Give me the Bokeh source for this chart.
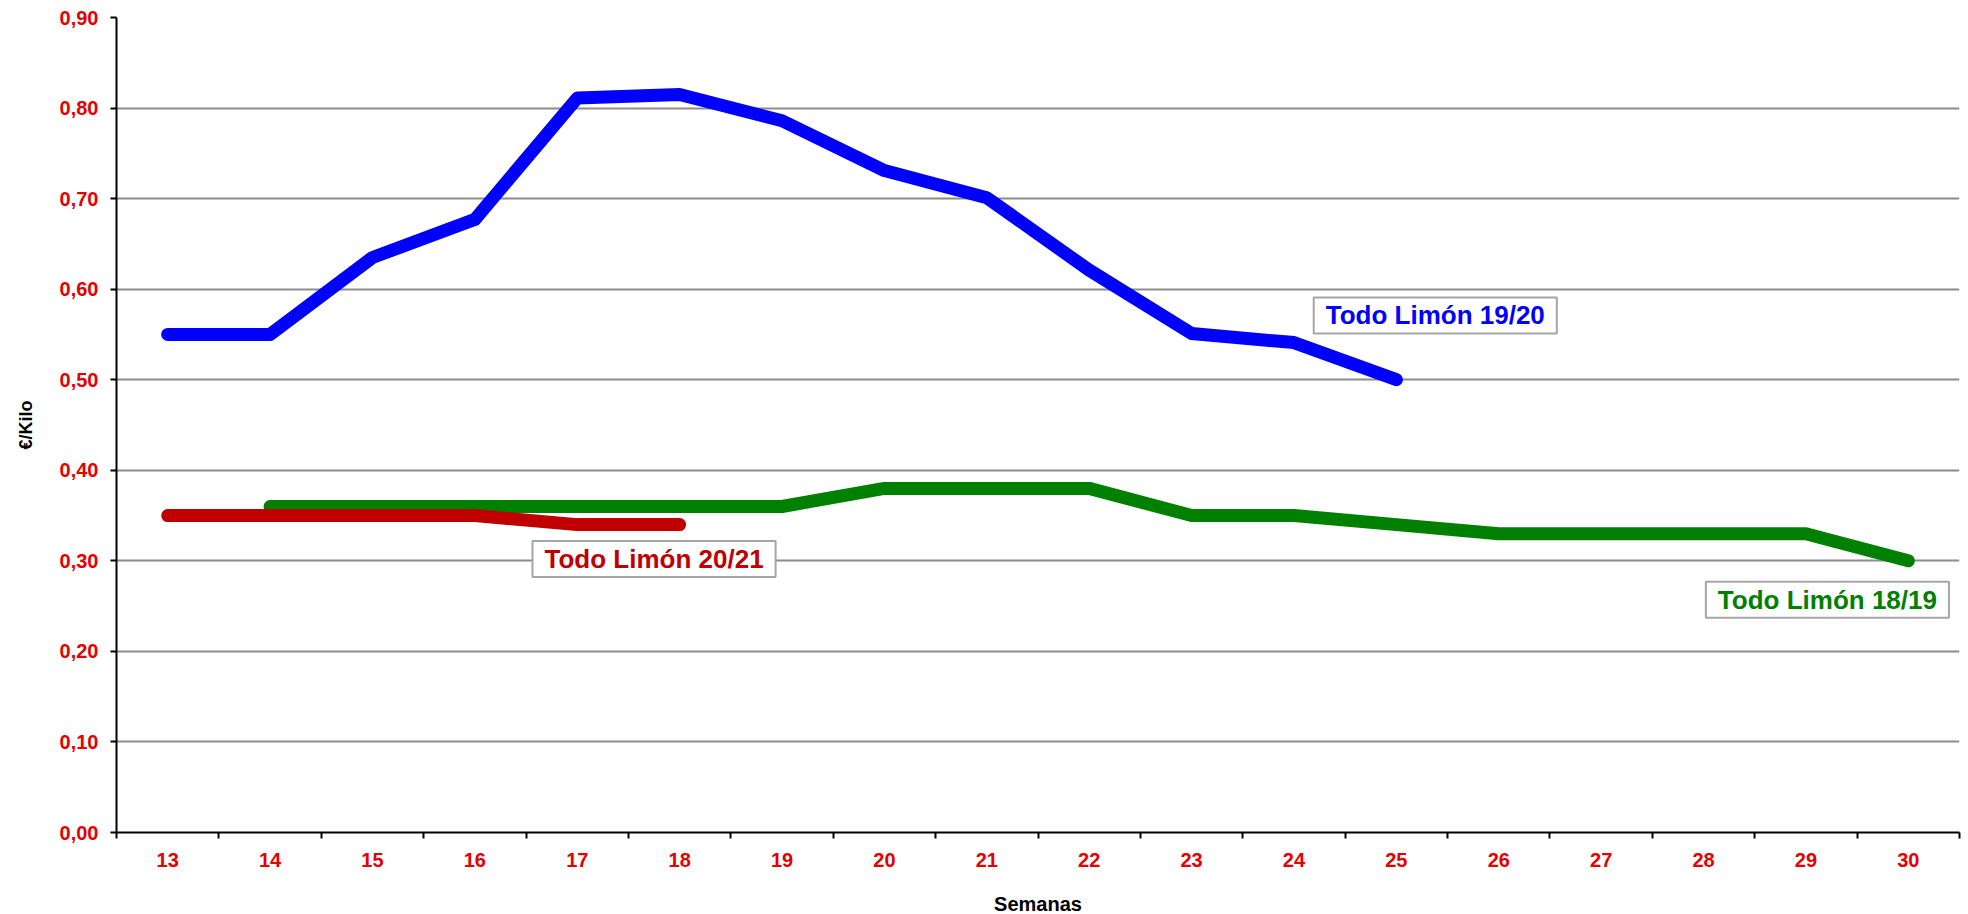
from bokeh.plotting import figure
from bokeh.models import FixedTicker, CustomJSTickFormatter, Label, Range1d
from bokeh.embed import file_html
from bokeh.resources import INLINE

# ---- data ----
weeks = list(range(13, 31))
weeks_1819 = list(range(14, 31))
todo_1819 = [0.36, 0.36, 0.36, 0.36, 0.36, 0.36, 0.38, 0.38, 0.38, 0.35, 0.35, 0.34, 0.33, 0.33, 0.33, 0.33, 0.30]
weeks_1920 = list(range(13, 26))
todo_1920 = [0.55, 0.55, 0.635, 0.677, 0.811, 0.815, 0.786, 0.731, 0.701, 0.621, 0.551, 0.541, 0.50]
weeks_2021 = list(range(13, 19))
todo_2021 = [0.35, 0.35, 0.35, 0.35, 0.34, 0.34]
y_ticks = [0.0, 0.1, 0.2, 0.3, 0.4, 0.5, 0.6, 0.7, 0.8, 0.9]

FONT = "Liberation Sans"
TICK_RED = "#E60000"

p = figure(frame_width=1843, frame_height=815,
           min_border_left=116, min_border_top=17, min_border_right=5, min_border_bottom=80,
           x_range=Range1d(weeks[0] - 0.5, weeks[-1] + 0.5), y_range=Range1d(0, 0.9),
           output_backend="svg", toolbar_location=None, tools="")
p.outline_line_color = None
p.background_fill_color = "white"
p.border_fill_color = "white"

# lines
p.line(weeks_1819, todo_1819, line_color="#008000", line_width=13, line_join="round", line_cap="round")
p.line(weeks_1920, todo_1920, line_color="#0000FF", line_width=13, line_join="round", line_cap="round")
p.line(weeks_2021, todo_2021, line_color="#C00000", line_width=13, line_join="round", line_cap="round")

# x axis
p.xaxis.ticker = FixedTicker(ticks=weeks, minor_ticks=[w - 0.5 for w in weeks] + [weeks[-1] + 0.5])
p.xaxis.major_tick_out = 0
p.xaxis.major_tick_in = 0
p.xaxis.minor_tick_out = 6
p.xaxis.minor_tick_in = 0
p.xaxis.minor_tick_line_color = "black"
p.xaxis.minor_tick_line_width = 2
p.xaxis.major_label_standoff = 14
p.xaxis.axis_label = "Semanas"
p.xaxis.axis_label_standoff = 23

# y axis
p.yaxis.ticker = FixedTicker(ticks=y_ticks)
p.yaxis.formatter = CustomJSTickFormatter(code="return tick.toFixed(2).replace('.', ',');")
p.yaxis.major_tick_out = 6
p.yaxis.major_tick_in = 0
p.yaxis.minor_tick_out = 0
p.yaxis.minor_tick_in = 0
p.yaxis.major_tick_line_width = 2
p.yaxis.major_label_standoff = 12
p.yaxis.axis_label = "€/Kilo"
p.yaxis.axis_label_standoff = 21

for ax in (p.xaxis, p.yaxis):
    ax.axis_line_color = "black"
    ax.axis_line_width = 2
    ax.major_label_text_font = FONT
    ax.major_label_text_font_style = "bold"
    ax.major_label_text_font_size = "20px"
    ax.major_label_text_color = TICK_RED
    ax.axis_label_text_font = FONT
    ax.axis_label_text_font_style = "bold"
    ax.axis_label_text_color = "black"
p.xaxis.axis_label_text_font_size = "20px"
p.yaxis.axis_label_text_font_size = "18px"

p.xgrid.visible = False
p.ygrid.grid_line_color = "#8C8C8C"
p.ygrid.grid_line_width = 2

# series labels
def add_label(x, y, text, color):
    p.add_layout(Label(x=x, y=y, text=text, text_align="center", text_baseline="middle",
                       text_font=FONT, text_font_style="bold", text_font_size="26px",
                       text_color=color, border_line_color="#A6A6A6", border_line_width=2,
                       background_fill_color="white", padding=(12, 3)))

add_label(25.38, 0.571, "Todo Limón 19/20", "#0000FF")
add_label(17.75, 0.302, "Todo Limón 20/21", "#C00000")
add_label(29.21, 0.257, "Todo Limón 18/19", "#008000")

open("out.html", "w").write(file_html(p, INLINE))
